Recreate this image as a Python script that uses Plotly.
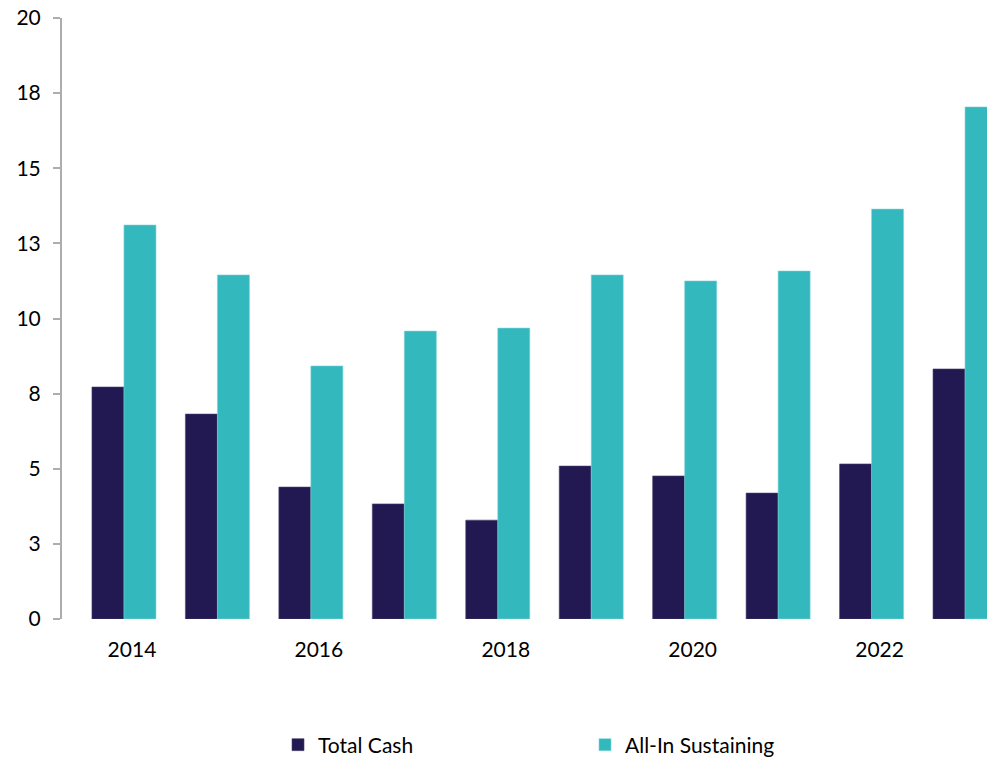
import plotly.graph_objects as go

years = [2014, 2015, 2016, 2017, 2018, 2019, 2020, 2021, 2022, 2023]
total_cash = [7.72, 6.82, 4.39, 3.83, 3.29, 5.09, 4.76, 4.19, 5.16, 8.32]
all_in_sustaining = [13.11, 11.45, 8.42, 9.58, 9.68, 11.45, 11.25, 11.58, 13.64, 17.04]
y_tick_vals = [0, 2.5, 5, 7.5, 10, 12.5, 15, 17.5, 20]
y_tick_text = ["0", "3", "5", "8", "10", "13", "15", "18", "20"]
x_tick_vals = [2014, 2016, 2018, 2020, 2022]

FONT = "Lato, 'Open Sans', sans-serif"
FS = 21

fig = go.Figure()
fig.add_trace(go.Bar(x=years, y=total_cash, name="Total Cash",
                     marker=dict(color="#221852", line=dict(color="#4a4370", width=0.6))))
fig.add_trace(go.Bar(x=years, y=all_in_sustaining, name="All-In Sustaining",
                     marker=dict(color="#33B8BD", line=dict(color="#7fd3d6", width=0.6))))

fig.update_layout(
    width=987, height=758,
    margin=dict(l=62, r=0, t=18, b=139),
    paper_bgcolor="white", plot_bgcolor="white",
    barmode="group", bargap=0.315, bargroupgap=0,
    font=dict(family=FONT, size=FS, color="#000000"),
    showlegend=True,
    legend=dict(orientation="h", xref="container", yref="container",
                x=278/987, xanchor="left", y=1 - 745/758, yanchor="middle",
                entrywidth=262, entrywidthmode="pixels",
                font=dict(family=FONT, size=FS, color="#000000"),
                bgcolor="rgba(0,0,0,0)"),
)
fig.update_xaxes(range=[2013.337, 2023.235], tickmode="array", tickvals=x_tick_vals,
                 ticktext=[str(v) for v in x_tick_vals], automargin=False,
                 showgrid=False, zeroline=False, showline=False, ticks="",
                 ticklabelstandoff=16, ticklabelshift=8,
                 tickfont=dict(family=FONT, size=FS, color="#000000"))
fig.update_yaxes(range=[0, 20], tickmode="array", tickvals=y_tick_vals, ticktext=y_tick_text,
                 showgrid=False, zeroline=False, showline=True, linecolor="#ADADAD", linewidth=2,
                 ticks="outside", ticklen=7, tickcolor="#ADADAD", tickwidth=2,
                 ticklabelstandoff=8, ticklabeloverflow="allow", automargin=False,
                 tickfont=dict(family=FONT, size=FS, color="#000000"))

fig.write_html("out.html",
               config={"displayModeBar": False},
               post_script="document.body.style.margin='0';document.body.style.overflow='hidden';")
